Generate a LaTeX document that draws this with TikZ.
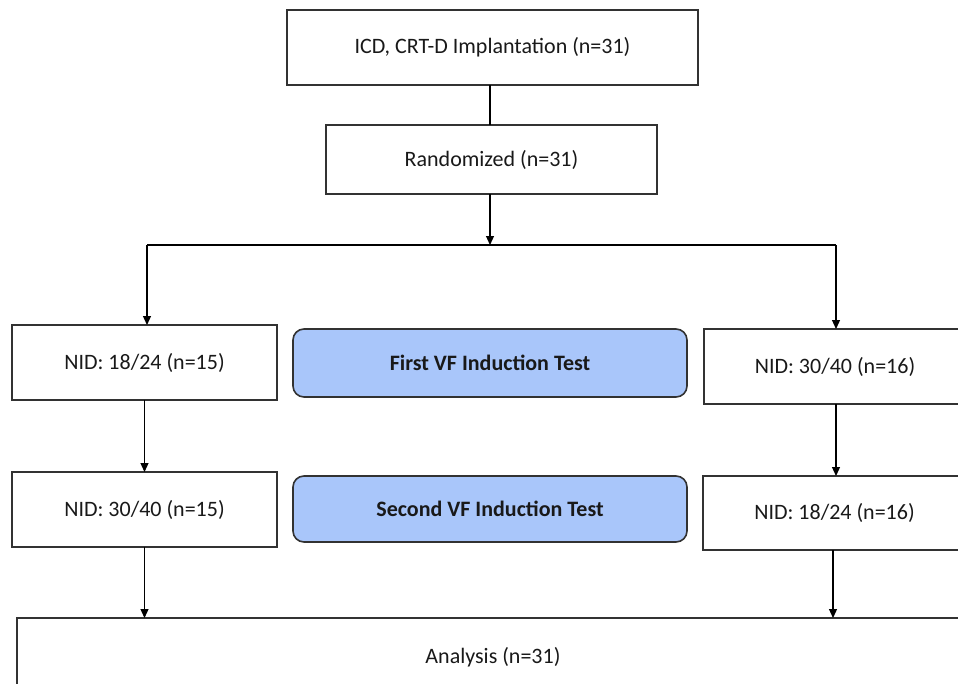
\documentclass[tikz,border=0pt]{standalone}
\usepackage{fontspec}
\setmainfont{Carlito}
\usetikzlibrary{arrows.meta}
\definecolor{boxline}{RGB}{50,50,50}
\definecolor{txt}{RGB}{25,25,25}
\definecolor{bluefill}{RGB}{169,198,250}
\tikzset{
  plainbox/.style={draw=boxline, line width=1.6pt, fill=white, inner sep=0pt, outer sep=0pt, text=txt, font=\fontsize{22}{26}\selectfont},
  testbox/.style={draw=boxline, line width=1.6pt, fill=bluefill, rounded corners=11pt, inner sep=0pt, outer sep=0pt, text=txt, font=\fontsize{22}{26}\selectfont\bfseries},
  conn/.style={draw=black, line width=1.2pt},
  arr/.style={conn, -{Triangle[length=9pt,width=8pt]}}
}
\begin{document}
\begin{tikzpicture}[x=1pt,y=-1pt]
\useasboundingbox (0,0) rectangle (958,683);
\clip (0,0) rectangle (958,683);
\node[plainbox, minimum width=411pt, minimum height=75pt] (top) at (492.5,47.5) {ICD, CRT-D Implantation (n=31)};
\node[plainbox, minimum width=331pt, minimum height=69pt] (rand) at (491.5,159.5) {Randomized (n=31)};
\node[plainbox, minimum width=265pt, minimum height=75pt] (l1) at (144.5,362.5) {NID: 18/24 (n=15)};
\node[plainbox, minimum width=265pt, minimum height=75pt] (l2) at (144.5,509.5) {NID: 30/40 (n=15)};
\node[testbox, minimum width=394pt, minimum height=68pt] (b1) at (490,363) {First VF Induction Test};
\node[testbox, minimum width=394pt, minimum height=66pt] (b2) at (490,509) {Second VF Induction Test};
\node[plainbox, minimum width=262pt, minimum height=75pt] (r1) at (835,366.5) {NID: 30/40 (n=16)};
\node[plainbox, minimum width=263pt, minimum height=74pt] (r2) at (834.5,513) {NID: 18/24 (n=16)};
\node[plainbox, minimum width=952pt, minimum height=78pt] (an) at (493,657) {Analysis (n=31)};
\coordinate (bl) at (147,245);
\coordinate (br) at (836,245);
\draw[conn] (top.south -| 490,0) -- (rand.north -| 490,0);
\draw[arr] (rand.south -| 490,0) -- (bl -| 490,0);
\draw[conn] (bl) -- (br);
\draw[arr] (bl) -- (bl |- l1.north);
\draw[arr] (br) -- (br |- r1.north);
\draw[arr] (l1.south) -- (l2.north);
\draw[arr] (br |- r1.south) -- (br |- r2.north);
\draw[arr] (l2.south) -- (l2.south |- an.north);
\draw[arr] (833,0 |- r2.south) -- (833,0 |- an.north);
\end{tikzpicture}
\end{document}
